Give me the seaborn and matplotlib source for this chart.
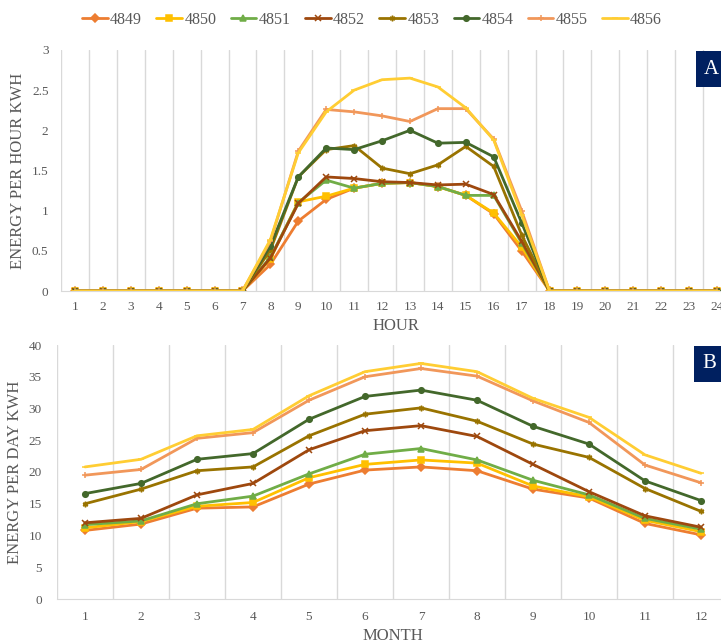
import numpy as np
import pandas as pd
import seaborn as sns
import matplotlib.pyplot as plt

# Series ids, colours and markers
sites = ["4849", "4850", "4851", "4852", "4853", "4854", "4855", "4856"]
colors = ["#ED7D31", "#FFC000", "#70AD47", "#9E480E", "#997300", "#43682B", "#F1975A", "#FFCD33"]
markers = ["D", "s", "^", "x", (6, 2, 0), "o", "+", "_"]

hours = list(range(1, 25))
months = list(range(1, 13))

# Panel A: hourly energy (kWh), hours 8-17, zero elsewhere
z7 = [0] * 7
z7b = [0] * 7
hourly = {
    "4849": z7 + [0.33, 0.87, 1.14, 1.28, 1.34, 1.35, 1.30, 1.19, 0.96, 0.50] + z7b,
    "4850": z7 + [0.40, 1.11, 1.18, 1.28, 1.34, 1.35, 1.30, 1.19, 0.97, 0.55] + z7b,
    "4851": z7 + [0.42, 1.10, 1.38, 1.28, 1.34, 1.35, 1.30, 1.19, 1.19, 0.60] + z7b,
    "4852": z7 + [0.41, 1.09, 1.42, 1.40, 1.36, 1.35, 1.32, 1.33, 1.20, 0.62] + z7b,
    "4853": z7 + [0.51, 1.42, 1.76, 1.81, 1.53, 1.46, 1.57, 1.80, 1.55, 0.70] + z7b,
    "4854": z7 + [0.56, 1.42, 1.78, 1.76, 1.87, 2.00, 1.84, 1.85, 1.67, 0.85] + z7b,
    "4855": z7 + [0.62, 1.74, 2.26, 2.23, 2.18, 2.11, 2.27, 2.27, 1.89, 1.00] + z7b,
    "4856": z7 + [0.64, 1.72, 2.23, 2.50, 2.63, 2.65, 2.54, 2.28, 1.88, 0.95] + z7b,
}

# Panel B: daily energy per month (kWh)
monthly = {
    "4849": [10.8, 11.8, 14.3, 14.5, 18.1, 20.3, 20.8, 20.2, 17.3, 15.9, 11.9, 10.1],
    "4850": [11.2, 12.2, 14.6, 15.2, 19.1, 21.2, 21.9, 21.4, 17.8, 16.1, 12.4, 10.6],
    "4851": [11.7, 12.3, 15.0, 16.2, 19.7, 22.8, 23.7, 21.9, 18.7, 16.4, 12.7, 11.0],
    "4852": [12.0, 12.7, 16.4, 18.2, 23.5, 26.5, 27.3, 25.6, 21.2, 16.9, 13.1, 11.3],
    "4853": [15.0, 17.3, 20.2, 20.8, 25.7, 29.1, 30.1, 28.0, 24.4, 22.3, 17.4, 13.8],
    "4854": [16.6, 18.2, 22.0, 22.9, 28.3, 31.9, 32.9, 31.3, 27.2, 24.4, 18.6, 15.5],
    "4855": [19.5, 20.4, 25.3, 26.2, 31.3, 35.0, 36.3, 35.1, 31.2, 27.8, 21.1, 18.3],
    "4856": [20.8, 22.0, 25.7, 26.7, 32.0, 35.8, 37.1, 35.8, 31.6, 28.6, 22.7, 19.8],
}

sns.set_style("white")
plt.rcParams["font.family"] = ["Liberation Serif", "DejaVu Serif"]

fig = plt.figure(figsize=(7.21, 6.44), dpi=100)
axA = fig.add_axes([61 / 721, (644 - 291) / 644, 670 / 721, 241 / 644])
axB = fig.add_axes([57 / 721, (644 - 599) / 644, 672 / 721, 254 / 644])

grey = "#595959"
grid = "#D9D9D9"

for site, col, mk in zip(sites, colors, markers):
    sns.lineplot(x=hours, y=hourly[site], ax=axA, color=col, marker=mk, markersize=4,
                 markeredgewidth=1.1, markeredgecolor=col, linewidth=2.0, label=site)
    sns.lineplot(x=months, y=monthly[site], ax=axB, color=col, marker=mk, markersize=4,
                 markeredgewidth=1.1, markeredgecolor=col, linewidth=2.0, legend=False)

handles, labels = axA.get_legend_handles_labels()
axA.get_legend().remove()
fig.legend(handles, labels, loc="center", bbox_to_anchor=(372 / 721, 1 - 20 / 644), ncol=8,
           frameon=False, fontsize=11.5, handlelength=1.6, handletextpad=0.15, columnspacing=0.9,
           labelcolor=grey)


def style_axis(ax, n, ymax, ystep, xlabel, ylabel, tag, xpad, ypad, lpad, width):
    ax.set_xlim(0.5, n + 0.5)
    ax.set_ylim(0, ymax)
    ax.set_xticks(range(1, n + 1))
    ax.set_xticks(np.arange(0.5, n + 1, 1), minor=True)
    ax.set_yticks(np.arange(0, ymax + ystep / 2, ystep))
    ax.set_yticklabels([f"{v:g}" for v in np.arange(0, ymax + ystep / 2, ystep)])
    ax.grid(False)
    ax.grid(which="minor", axis="x", color=grid, linewidth=1)
    ax.tick_params(which="both", length=0, labelsize=9.5, colors=grey)
    ax.tick_params(axis="x", pad=xpad)
    ax.tick_params(axis="y", pad=ypad)
    for s in ["top", "right", "left"]:
        ax.spines[s].set_visible(False)
    ax.spines["bottom"].set_color(grid)
    ax.set_xlabel(xlabel, fontsize=12, color=grey, labelpad=lpad)
    ax.set_ylabel(ylabel, fontsize=12, color=grey, labelpad=4)
    ax.text(1.0 - 27 / width, 1.0 - 19 / ax.bbox.height, tag, transform=ax.transAxes,
            color="white", fontsize=15, ha="left", va="center",
            bbox=dict(boxstyle="square,pad=0.4", facecolor="#002060", edgecolor="none"))


style_axis(axA, 24, 3, 0.5, "HOUR", "ENERGY PER HOUR KWH", "A", 7, 9, 4, 670)
style_axis(axB, 12, 40, 5, "MONTH", "ENERGY PER DAY KWH", "B", 9, 11, 3, 672)

fig.savefig("out.png", dpi=100)
